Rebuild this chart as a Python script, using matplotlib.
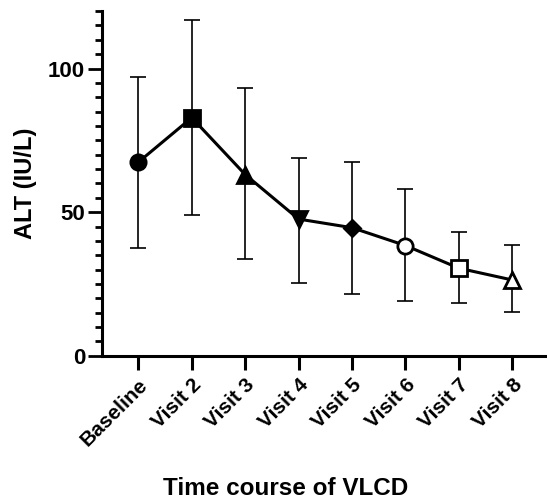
import numpy as np
import matplotlib.pyplot as plt

plt.rcParams['font.family'] = ['Liberation Sans', 'DejaVu Sans']
plt.rcParams['font.weight'] = 'bold'

# data
visits = ['Baseline', 'Visit 2', 'Visit 3', 'Visit 4', 'Visit 5', 'Visit 6', 'Visit 7', 'Visit 8']
alt_mean = [67.4, 82.9, 63.1, 47.6, 44.6, 38.4, 30.5, 26.4]
err_upper = [97.0, 116.9, 93.4, 68.7, 67.6, 57.9, 43.1, 38.6]
err_lower = [37.7, 49.1, 33.8, 25.5, 21.5, 19.1, 18.3, 15.4]
markers = ['o', 's', '^', 'v', 'D', 'o', 's', '^']
filled = [True, True, True, True, True, False, False, False]
msizes = [11, 11, 11, 11, 8, 11, 11, 11]

fig = plt.figure(figsize=(5.47, 5.04), dpi=100)
ax = fig.add_axes([0.186, 0.294, 0.814, 0.684])

x = np.arange(len(visits))
mean = np.array(alt_mean)
yerr = [mean - np.array(err_lower), np.array(err_upper) - mean]

ax.errorbar(x, mean, yerr=yerr, fmt='none', ecolor='black', elinewidth=1.2,
            capsize=6, capthick=1.2, zorder=2)
ax.plot(x, mean, color='black', lw=2.2, zorder=3)
for xi, yi, m, f, ms in zip(x, mean, markers, filled, msizes):
    ax.plot(xi, yi, marker=m, ms=ms, mec='black', mew=2,
            mfc='black' if f else 'white', zorder=4)

ax.set_xlim(-0.685, 7.65)
ax.set_ylim(0, 120)
ax.set_yticks([0, 50, 100])
ax.set_yticks(np.arange(0, 121, 5), minor=True)
ax.set_xticks(x)
ax.set_xticklabels(visits, rotation=45, ha='right', rotation_mode='anchor',
                   fontsize=15, fontweight='bold')
ax.tick_params(axis='y', labelsize=16, width=2, length=10, pad=2)
ax.tick_params(axis='y', which='minor', width=2, length=5)
ax.tick_params(axis='x', width=2.2, length=10, pad=4)

for s in ['top', 'right']:
    ax.spines[s].set_visible(False)
for s in ['left', 'bottom']:
    ax.spines[s].set_linewidth(2.2)

ax.set_ylabel('ALT (IU/L)', fontsize=17, fontweight='bold', va='center')
ax.yaxis.set_label_coords(-0.172, 0.5)
ax.set_xlabel('Time course of VLCD', fontsize=17.5, fontweight='bold', va='center')
ax.xaxis.set_label_coords(0.412, -0.384)

plt.savefig('out.png', dpi=100)
